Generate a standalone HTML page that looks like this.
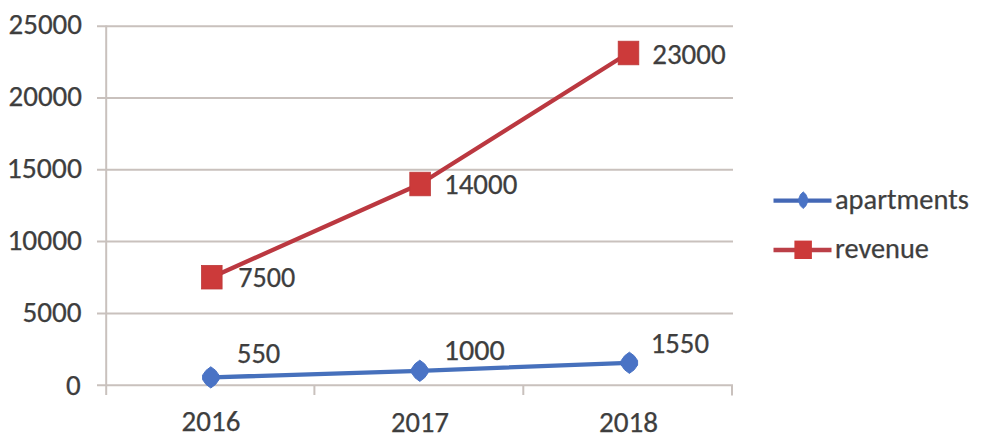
<!DOCTYPE html>
<html>
<head>
<meta charset="utf-8">
<style>
html,body{margin:0;padding:0;background:#fff;}
body{width:981px;height:443px;overflow:hidden;}
svg{display:block;}
text{font-family:Carlito,"Liberation Sans",sans-serif;fill:#3e3e3e;stroke:#3e3e3e;stroke-width:0.25px;}
</style>
</head>
<body>
<svg width="981" height="443" viewBox="0 0 981 443">
<rect width="981" height="443" fill="#fff"/>
<g stroke="#c9c1bd" stroke-width="2" fill="none">
<line x1="97" y1="385.2" x2="733" y2="385.2"/>
<line x1="97" y1="313.4" x2="733" y2="313.4"/>
<line x1="97" y1="241.6" x2="733" y2="241.6"/>
<line x1="97" y1="169.8" x2="733" y2="169.8"/>
<line x1="97" y1="98.0" x2="733" y2="98.0"/>
<line x1="97" y1="26.2" x2="733" y2="26.2"/>
<line x1="106.2" y1="25.5" x2="106.2" y2="395"/>
<line x1="314.4" y1="385" x2="314.4" y2="395"/>
<line x1="523.3" y1="385" x2="523.3" y2="395"/>
<line x1="732" y1="385" x2="732" y2="395.5"/>
</g>
<g font-size="29" text-anchor="end">
<text x="82" y="34" textLength="73.5" lengthAdjust="spacingAndGlyphs">25000</text>
<text x="82" y="106" textLength="73.5" lengthAdjust="spacingAndGlyphs">20000</text>
<text x="82" y="178" textLength="75.3" lengthAdjust="spacingAndGlyphs">15000</text>
<text x="82" y="250" textLength="74.6" lengthAdjust="spacingAndGlyphs">10000</text>
<text x="81.6" y="322" textLength="59.2" lengthAdjust="spacingAndGlyphs">5000</text>
<text x="80.6" y="394.5" textLength="14.7" lengthAdjust="spacingAndGlyphs">0</text>
</g>
<g font-size="29" text-anchor="middle">
<text x="211" y="431" textLength="58.8" lengthAdjust="spacingAndGlyphs">2016</text>
<text x="420" y="431.5" textLength="57.8" lengthAdjust="spacingAndGlyphs">2017</text>
<text x="628.5" y="431.5" textLength="59.2" lengthAdjust="spacingAndGlyphs">2018</text>
</g>
<polyline points="211.8,277.2 420.1,184.0 628.5,53.0" fill="none" stroke="#bb3840" stroke-width="4.3" stroke-linejoin="round"/>
<g fill="#cc3a3a" stroke="#bd3a3a" stroke-width="0.8">
<rect x="201.5" y="265.4" width="20.6" height="23.6"/>
<rect x="409.8" y="172.2" width="20.6" height="23.6"/>
<rect x="618.2" y="41.2" width="20.6" height="23.6"/>
</g>
<polyline points="211.8,377.4 420.1,370.8 628.5,362.8" fill="none" stroke="#4670bc" stroke-width="4.3" stroke-linejoin="round"/>
<g fill="#4a73c5" stroke="#4a73c5" stroke-width="1" stroke-linejoin="round">
<polygon points="210.8,366.8 215.6,370.4 219.0,375.2 219.0,379.6 215.6,384.4 210.8,388.0 206.0,384.4 202.6,379.6 202.6,375.2 206.0,370.4"/>
<polygon points="419.8,360.2 424.6,363.8 428.0,368.6 428.0,373.0 424.6,377.8 419.8,381.4 415.0,377.8 411.6,373.0 411.6,368.6 415.0,363.8"/>
<polygon points="629.4,352.2 634.2,355.8 637.6,360.6 637.6,365.0 634.2,369.8 629.4,373.4 624.6,369.8 621.2,365.0 621.2,360.6 624.6,355.8"/>
</g>
<g font-size="28">
<text x="238.3" y="287" textLength="57" lengthAdjust="spacingAndGlyphs">7500</text>
<text x="444" y="193.8" textLength="73.3" lengthAdjust="spacingAndGlyphs">14000</text>
<text x="652.2" y="64.2" textLength="73.5" lengthAdjust="spacingAndGlyphs">23000</text>
<text x="237" y="362.8" textLength="43.3" lengthAdjust="spacingAndGlyphs">550</text>
<text x="443.8" y="359.5" textLength="61" lengthAdjust="spacingAndGlyphs">1000</text>
<text x="650.7" y="353.3" textLength="58.3" lengthAdjust="spacingAndGlyphs">1550</text>
</g>
<line x1="773.5" y1="200.6" x2="831.5" y2="200.6" stroke="#4468b6" stroke-width="4.4"/>
<polygon points="803.2,191.8 806.0,194.6 807.6,198.4 807.6,202.0 806.0,205.8 803.2,208.6 800.4,205.8 798.8,202.0 798.8,198.4 800.4,194.6" fill="#4a73c5" stroke="#4a73c5" stroke-width="0.8" stroke-linejoin="round"/>
<line x1="773.5" y1="250" x2="831.5" y2="250" stroke="#bb3f47" stroke-width="4.4"/>
<rect x="794.4" y="240.6" width="17.5" height="18.4" fill="#cc3a3a"/>
<g font-size="28" style="fill:#464646;stroke:none">
<text x="835" y="208.7" textLength="133.8" lengthAdjust="spacingAndGlyphs">apartments</text>
<text x="835" y="258" textLength="93.9" lengthAdjust="spacingAndGlyphs">revenue</text>
</g>
</svg>
</body>
</html>
